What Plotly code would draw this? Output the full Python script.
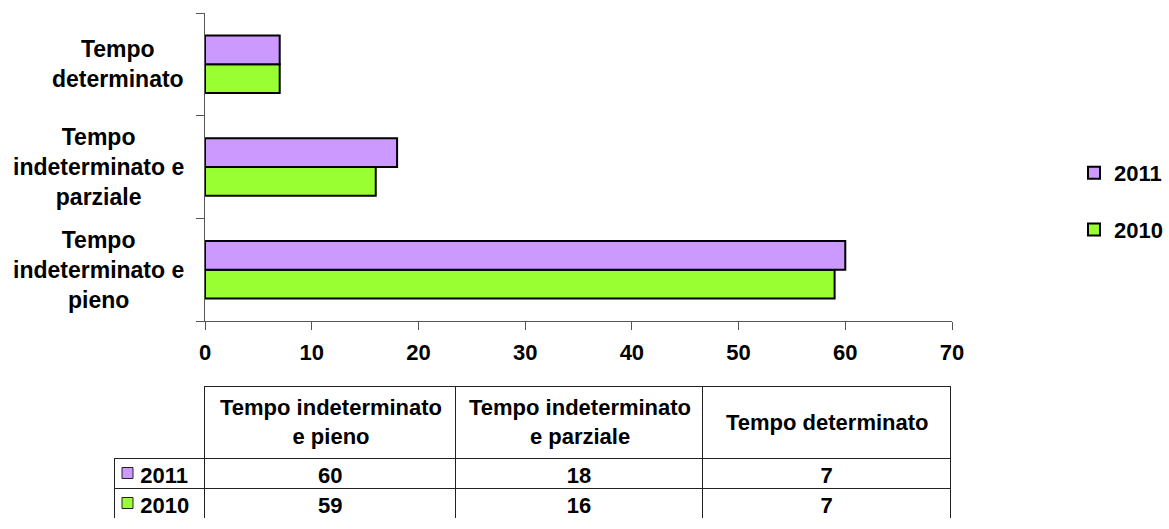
import plotly.graph_objects as go

# categories bottom -> top, as in the chart
categories = ["Tempo indeterminato e pieno", "Tempo indeterminato e parziale", "Tempo determinato"]
axis_labels = ["Tempo<br>indeterminato e<br>pieno", "Tempo<br>indeterminato e<br>parziale", "Tempo<br>determinato"]
table_headers = ["Tempo indeterminato<br>e pieno", "Tempo indeterminato<br>e parziale", "Tempo determinato"]
series_names = ["2011", "2010"]
values_2011 = [60, 18, 7]
values_2010 = [59, 16, 7]
x_ticks = [0, 10, 20, 30, 40, 50, 60, 70]

C2011 = "#CC99FF"
C2010 = "#99FF33"
FONT = "Liberation Sans, Arial, sans-serif"
W, H = 1169, 529

# table geometry (pixels)
TAB_X0 = 114
COL_W = [91, 251, 247, 249]
TAB_TOP, HEAD_H, ROW_H = 386, 72, 30

fig = go.Figure()
fig.add_trace(go.Bar(y=categories, x=values_2010, name="2010", orientation="h",
                     marker=dict(color=C2010, line=dict(color="black", width=2)),
                     legendgroup="a", legendrank=2))
fig.add_trace(go.Bar(y=categories, x=values_2011, name="2011", orientation="h",
                     marker=dict(color=C2011, line=dict(color="black", width=2)),
                     legendgroup="b", legendrank=1))

tab_bottom = TAB_TOP + HEAD_H + 2 * ROW_H
fig.add_trace(go.Table(
    domain=dict(x=[TAB_X0 / W, (TAB_X0 + sum(COL_W)) / W],
                y=[1 - tab_bottom / H, 1 - TAB_TOP / H]),
    columnwidth=COL_W,
    header=dict(values=["", "", "", ""], height=HEAD_H,
                fill_color=["rgba(0,0,0,0)", "white", "white", "white"],
                line=dict(color=["rgba(0,0,0,0)", "#222", "#222", "#222"], width=1)),
    cells=dict(values=[["\u00a0\u00a0\u00a0" + s for s in series_names],
                       [values_2011[0], values_2010[0]],
                       [values_2011[1], values_2010[1]],
                       [values_2011[2], values_2010[2]]],
               height=ROW_H, fill_color="white",
               line=dict(color="#222", width=1),
               font=dict(family=FONT, size=22, color="black", weight="bold"),
               align=["left", "center", "center", "center"]),
))

# header labels, centred in their cells
x = TAB_X0 + COL_W[0]
for lab, w in zip(table_headers, COL_W[1:]):
    fig.add_annotation(x=(x + w / 2) / W, y=1 - (TAB_TOP + HEAD_H / 2) / H,
                       xref="paper", yref="paper", text=lab, showarrow=False,
                       xanchor="center", yanchor="middle", align="center",
                       font=dict(family=FONT, size=22, color="black", weight="bold"))
    x += w

# legend keys in the table row headers
for i, col in enumerate([C2011, C2010]):
    yc = TAB_TOP + HEAD_H + ROW_H * (i + 0.5)
    fig.add_shape(type="rect", xref="paper", yref="paper",
                  x0=122 / W, x1=133 / W, y0=1 - (yc - 5.5) / H, y1=1 - (yc + 5.5) / H,
                  fillcolor=col, line=dict(color="#222", width=1))

for cat, lab in zip(categories, axis_labels):
    fig.add_annotation(x=186 / W, xref="paper", y=cat, yref="y", text=lab,
                       showarrow=False, xanchor="right", align="center",
                       font=dict(family=FONT, size=23, color="black", weight="bold"))

fig.update_layout(
    width=W, height=H,
    margin=dict(l=0, r=0, t=0, b=0, autoexpand=False),
    paper_bgcolor="white", plot_bgcolor="white",
    barmode="group", bargap=0.44, bargroupgap=0,
    font=dict(family=FONT, size=22, color="black"),
    legend=dict(x=1074 / W, y=1 - 152 / H, xanchor="left", yanchor="top",
                traceorder="grouped", tracegroupgap=25,
                font=dict(family=FONT, size=22, color="black", weight="bold")),
    xaxis=dict(domain=[205 / W, 952 / W], range=[0, 70], tickvals=x_ticks,
               showgrid=False, zeroline=False,
               showline=True, linecolor="#555", linewidth=1,
               ticks="outside", ticklen=8, tickcolor="#555",
               ticklabelstandoff=4,
               tickfont=dict(family=FONT, size=22, color="black", weight="bold")),
    yaxis=dict(domain=[1 - 321 / H, 1 - 13 / H],
               showgrid=False, zeroline=False, showline=True, linecolor="#555",
               linewidth=1, ticks="outside", ticklen=8, tickcolor="#555",
               tickson="boundaries", showticklabels=False),
)

fig.write_html("out.html", config={"displayModeBar": False},
               post_script="document.body.style.margin='0';")
